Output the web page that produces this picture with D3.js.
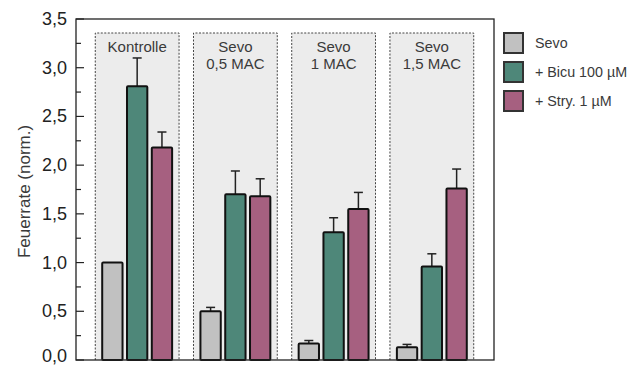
<!DOCTYPE html>
<html>
<head>
<meta charset="utf-8">
<script src="https://cdn.jsdelivr.net/npm/d3@7"></script>
<style>
  html, body { margin: 0; padding: 0; background: #fff; }
  svg { display: block; font-family: "Liberation Sans", Arial, sans-serif; }
</style>
</head>
<body>
<svg id="chart" width="629" height="367"></svg>
<script>
// Groups (conditions) and their two-line headings
const groups = ["Kontrolle", "Sevo 0,5 MAC", "Sevo 1 MAC", "Sevo 1,5 MAC"];
const groupLabels = [["Kontrolle"], ["Sevo", "0,5 MAC"], ["Sevo", "1 MAC"], ["Sevo", "1,5 MAC"]];

// Series shown in each group
const seriesNames = ["Sevo", "+ Bicu 100 µM", "+ Stry. 1 µM"];
const seriesColors = ["#c1c1c1", "#4e8779", "#a66080"];

// Mean firing rate (normalised) per series, one entry per group
const sevoValues = [1.00, 0.50, 0.17, 0.13];
const bicuValues = [2.81, 1.70, 1.31, 0.96];
const stryValues = [2.18, 1.68, 1.55, 1.76];

// Upper end of the error bar (mean + SEM)
const sevoErrTop = [1.00, 0.54, 0.20, 0.16];
const bicuErrTop = [3.10, 1.94, 1.46, 1.09];
const stryErrTop = [2.34, 1.86, 1.72, 1.96];

// Y axis ticks
const yMajorTicks = [0, 0.5, 1.0, 1.5, 2.0, 2.5, 3.0, 3.5];
const yMinorTicks = [0.25, 0.75, 1.25, 1.75, 2.25, 2.75, 3.25];
const yTickLabels = ["0,0", "0,5", "1,0", "1,5", "2,0", "2,5", "3,0", "3,5"];

const values = [sevoValues, bicuValues, stryValues];
const errTops = [sevoErrTop, bicuErrTop, stryErrTop];

const svg = d3.select("#chart");

const plot = { left: 76, right: 494, top: 19, bottom: 360 };

const y = d3.scaleLinear().domain([0, 3.5]).range([plot.bottom, plot.top]);

const x = d3.scaleBand()
  .domain(groups)
  .range([88, 481])
  .paddingInner(0.147)
  .paddingOuter(0.074);

const xInner = d3.scaleBand()
  .domain(d3.range(seriesNames.length))
  .range([0, x.bandwidth()])
  .paddingInner(0.18)
  .paddingOuter(0.28);

// Grey background boxes with dotted outline per group
const boxTop = 33;
const boxes = svg.append("g");
groups.forEach((g, i) => {
  const x0 = x(g), x1 = x(g) + x.bandwidth();
  boxes.append("rect")
    .attr("x", x0).attr("y", boxTop)
    .attr("width", x.bandwidth()).attr("height", plot.bottom - boxTop)
    .attr("fill", "#ececec");
  boxes.append("path")
    .attr("d", `M${x0},${plot.bottom}V${boxTop}H${x1}V${plot.bottom}`)
    .attr("fill", "none")
    .attr("stroke", "#444")
    .attr("stroke-width", 1)
    .attr("stroke-dasharray", "2,1.5");
  const lines = groupLabels[i];
  lines.forEach((t, k) => {
    boxes.append("text")
      .attr("x", x0 + x.bandwidth() / 2)
      .attr("y", 52 + k * 17)
      .attr("text-anchor", "middle")
      .attr("font-size", 15)
      .attr("fill", "#3a3a3a")
      .text(t);
  });
});

// Bars and error bars
const bars = svg.append("g");
groups.forEach((g, gi) => {
  values.forEach((vals, si) => {
    const bx = x(g) + xInner(si);
    const bw = xInner.bandwidth();
    const v = vals[gi];
    const e = errTops[si][gi];
    const cx = bx + bw / 2;
    if (e > v) {
      bars.append("line")
        .attr("x1", cx).attr("x2", cx)
        .attr("y1", y(v)).attr("y2", y(e))
        .attr("stroke", "#222").attr("stroke-width", 1.5);
      bars.append("line")
        .attr("x1", cx - 4.5).attr("x2", cx + 4.5)
        .attr("y1", y(e)).attr("y2", y(e))
        .attr("stroke", "#222").attr("stroke-width", 1.5);
    }
    bars.append("rect")
      .attr("x", bx).attr("y", y(v))
      .attr("width", bw).attr("height", y(0) - y(v))
      .attr("rx", 1)
      .attr("fill", seriesColors[si])
      .attr("stroke", "#111")
      .attr("stroke-width", 2);
  });
});

// Frame
svg.append("rect")
  .attr("x", plot.left).attr("y", plot.top)
  .attr("width", plot.right - plot.left).attr("height", plot.bottom - plot.top)
  .attr("fill", "none").attr("stroke", "#222").attr("stroke-width", 1.3);

// Y axis: inward ticks, labels on the left
const axisG = svg.append("g");
yMajorTicks.forEach((t, i) => {
  axisG.append("line")
    .attr("x1", plot.left).attr("x2", plot.left + 8)
    .attr("y1", y(t)).attr("y2", y(t))
    .attr("stroke", "#222").attr("stroke-width", 1.2);
  axisG.append("text")
    .attr("x", 67).attr("y", Math.min(y(t), 356))
    .attr("dy", "0.33em")
    .attr("text-anchor", "end")
    .attr("font-size", 18)
    .attr("fill", "#222")
    .text(yTickLabels[i]);
});
yMinorTicks.forEach(t => {
  axisG.append("line")
    .attr("x1", plot.left).attr("x2", plot.left + 5)
    .attr("y1", y(t)).attr("y2", y(t))
    .attr("stroke", "#222").attr("stroke-width", 1.2);
});

svg.append("text")
  .attr("transform", `translate(30,${(plot.top + plot.bottom) / 2 + 2}) rotate(-90)`)
  .attr("text-anchor", "middle")
  .attr("font-size", 17)
  .attr("fill", "#3a3a3a")
  .text("Feuerrate (norm.)");

// Legend
const legend = svg.append("g");
seriesNames.forEach((name, i) => {
  const ly = 33 + i * 29;
  legend.append("rect")
    .attr("x", 504).attr("y", ly)
    .attr("width", 19).attr("height", 20)
    .attr("fill", seriesColors[i])
    .attr("stroke", "#333").attr("stroke-width", 2);
  legend.append("text")
    .attr("x", 535).attr("y", ly + 10)
    .attr("dy", "0.36em")
    .attr("font-size", 14.3)
    .attr("fill", "#3a3a3a")
    .text(name);
});
</script>
</body>
</html>
